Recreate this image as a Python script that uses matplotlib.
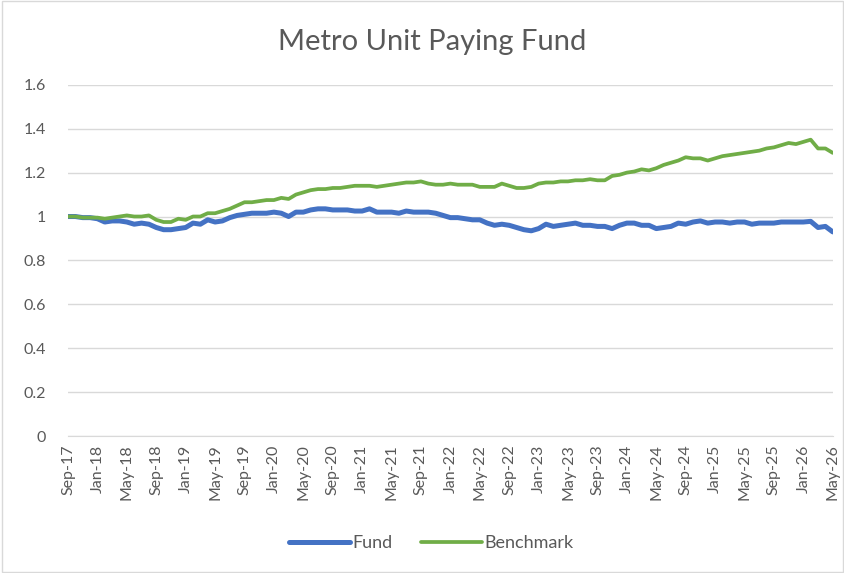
import matplotlib
matplotlib.use("Agg")
import matplotlib.pyplot as plt
from matplotlib.patches import Rectangle
import pandas as pd

# monthly series, Sep-17 .. May-26
dates = pd.date_range("2017-09-01", "2026-05-01", freq="MS")

fund = [
    1.000, 1.000, 0.995, 0.995, 0.990, 0.975, 0.980, 0.980,   # Sep-17 .. Apr-18
    0.975, 0.965, 0.970, 0.965, 0.950, 0.940, 0.940, 0.945,   # May-18 .. Dec-18
    0.950, 0.970, 0.965, 0.985, 0.975, 0.980, 0.995, 1.005,   # Jan-19 .. Aug-19
    1.010, 1.015, 1.015, 1.015, 1.020, 1.015, 1.000, 1.020,   # Sep-19 .. Apr-20
    1.020, 1.030, 1.035, 1.035, 1.030, 1.030, 1.030, 1.025,   # May-20 .. Dec-20
    1.025, 1.035, 1.020, 1.020, 1.020, 1.015, 1.025, 1.020,   # Jan-21 .. Aug-21
    1.020, 1.020, 1.015, 1.005, 0.995, 0.995, 0.990, 0.985,   # Sep-21 .. Apr-22
    0.985, 0.970, 0.960, 0.965, 0.960, 0.950, 0.940, 0.935,   # May-22 .. Dec-22
    0.945, 0.965, 0.955, 0.960, 0.965, 0.970, 0.960, 0.960,   # Jan-23 .. Aug-23
    0.955, 0.955, 0.945, 0.960, 0.970, 0.970, 0.960, 0.960,   # Sep-23 .. Apr-24
    0.945, 0.950, 0.955, 0.970, 0.965, 0.975, 0.980, 0.970,   # May-24 .. Dec-24
    0.975, 0.975, 0.970, 0.975, 0.975, 0.965, 0.970, 0.970,   # Jan-25 .. Aug-25
    0.970, 0.975, 0.975, 0.975, 0.975, 0.978, 0.950, 0.955,   # Sep-25 .. Apr-26
    0.930,                                                    # May-26
]

benchmark = [
    1.000, 1.000, 0.995, 0.995, 0.995, 0.990, 0.995, 1.000,
    1.005, 1.000, 1.000, 1.005, 0.985, 0.975, 0.975, 0.990,
    0.985, 1.000, 1.000, 1.015, 1.015, 1.025, 1.035, 1.050,
    1.065, 1.065, 1.070, 1.075, 1.075, 1.085, 1.080, 1.100,
    1.110, 1.120, 1.125, 1.125, 1.130, 1.130, 1.135, 1.140,
    1.140, 1.140, 1.135, 1.140, 1.145, 1.150, 1.155, 1.155,
    1.160, 1.150, 1.145, 1.145, 1.150, 1.145, 1.145, 1.145,
    1.135, 1.135, 1.135, 1.150, 1.140, 1.130, 1.130, 1.135,
    1.150, 1.155, 1.155, 1.160, 1.160, 1.165, 1.165, 1.170,
    1.165, 1.165, 1.185, 1.190, 1.200, 1.205, 1.215, 1.210,
    1.220, 1.235, 1.245, 1.255, 1.270, 1.265, 1.265, 1.255,
    1.265, 1.275, 1.280, 1.285, 1.290, 1.295, 1.300, 1.310,
    1.315, 1.325, 1.335, 1.330, 1.340, 1.350, 1.310, 1.310,
    1.290,
]

y_ticks = [0, 0.2, 0.4, 0.6, 0.8, 1, 1.2, 1.4, 1.6]
y_labels = ["0", "0.2", "0.4", "0.6", "0.8", "1", "1.2", "1.4", "1.6"]

assert len(fund) == len(dates) and len(benchmark) == len(dates)

plt.rcParams["font.family"] = ["Lato", "DejaVu Sans"]
text_col = "#595959"
grid_col = "#d9d9d9"

fig = plt.figure(figsize=(8.45, 5.73), dpi=100)
fig.patches.append(Rectangle((0.002, 0.002), 0.996, 0.996, transform=fig.transFigure,
                             fill=False, edgecolor=grid_col, linewidth=1))
ax = fig.add_axes([0.0805, 0.239, 0.905, 0.613])

x = range(len(dates))
ax.plot(x, fund, color="#4472C4", linewidth=3.6, label="Fund", solid_capstyle="round")
ax.plot(x, benchmark, color="#70AD47", linewidth=2.7, label="Benchmark", solid_capstyle="round")

ax.set_xlim(0, len(dates) - 1)
ax.set_ylim(0, 1.6)
ax.set_yticks(y_ticks)
ax.set_yticklabels(y_labels)
tick_pos = list(range(0, len(dates), 4))
ax.set_xticks(tick_pos)
ax.set_xticklabels([dates[i].strftime("%b-%y") for i in tick_pos], rotation=90)

ax.grid(axis="y", color=grid_col, linewidth=1)
ax.set_axisbelow(True)
for s in ["top", "right", "left"]:
    ax.spines[s].set_visible(False)
ax.spines["bottom"].set_color(grid_col)
ax.tick_params(axis="both", length=0, colors=text_col, labelsize=11.5)
ax.tick_params(axis="y", pad=16)
ax.tick_params(axis="x", pad=6)

fig.text(0.512, 0.927, "Metro Unit Paying Fund", ha="center", va="center",
         fontsize=21, color=text_col)

fig.legend(loc="center", bbox_to_anchor=(0.51, 0.052), ncol=2, frameon=False,
           fontsize=13, labelcolor=text_col, handlelength=3.4, handletextpad=0.1,
           columnspacing=1.6)

fig.savefig("out.png", dpi=100)
